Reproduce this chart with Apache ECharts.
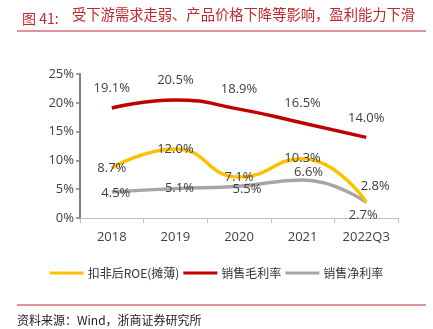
<!DOCTYPE html>
<html><head><meta charset="utf-8">
<script src="https://cdn.jsdelivr.net/npm/echarts@6/dist/echarts.min.js"></script>
<style>html,body{margin:0;padding:0;background:#fff}#c{width:433px;height:329px}</style>
</head><body><div id="c"></div>
<script>
const categories = ['2018','2019','2020','2021','2022Q3'];
const roe = [8.7, 12.0, 7.1, 10.3, 2.8];
const gross = [19.1, 20.5, 18.9, 16.5, 14.0];
const net = [4.5, 5.1, 5.5, 6.6, 2.7];
const names = ['扣非后ROE(摊薄)', '销售毛利率', '销售净利率'];

const roeOffsets = [[0,0],[0,0],[0,0],[0,0],[9,-16]];
const netOffsets = [[4,1],[4,0],[8,3],[6,-8],[-3,13]];
const lblFont = {fontFamily:'Open Sans', fontSize:13, color:'#404040'};

function dataWith(vals, offs){
  return vals.map((v,i)=>({value:v, label:{offset: offs ? offs[i] : [0,0]}}));
}

const chart = echarts.init(document.getElementById('c'));
chart.setOption({
  animation:false,
  title:{text:'图 41:', left:17, top:7, textStyle:{fontFamily:'Noto Sans CJK SC', fontSize:14, fontWeight:'normal', color:'#c0282d'}},
  graphic:[
    {type:'text', left:72, top:7, style:{text:'受下游需求走弱、产品价格下降等影响，盈利能力下滑', font:'14.3px "Noto Sans CJK SC"', fill:'#c0282d'}},
    {type:'line', shape:{x1:17,y1:31,x2:426,y2:31}, style:{stroke:'#c0282d', lineWidth:1}},
    {type:'line', shape:{x1:17,y1:305,x2:426,y2:305}, style:{stroke:'#c0282d', lineWidth:1}},
    {type:'text', left:17, top:314, style:{text:'资料来源：Wind，浙商证券研究所', font:'12px "Noto Sans CJK SC"', fill:'#222'}}
  ],
  grid:{left:80, right:35, top:74, bottom:111, containLabel:false},
  legend:{top:262, left:'center', itemWidth:34, itemHeight:3, itemGap:4, icon:'rect',
    textStyle:{fontFamily:'Noto Sans CJK SC', fontSize:12, color:'#333', padding:[0,0,0,-1]},
    data:names},
  xAxis:{type:'category', data:categories, boundaryGap:true,
    axisLine:{lineStyle:{color:'#bfbfbf', width:1}},
    axisTick:{show:true, length:5, lineStyle:{color:'#bfbfbf'}},
    axisLabel:{fontFamily:'Open Sans', fontSize:13, color:'#404040', margin:13}},
  yAxis:{type:'value', min:0, max:25, interval:5,
    axisLine:{show:true, lineStyle:{color:'#7f7f7f', width:2}},
    axisTick:{show:true, length:4, lineStyle:{color:'#7f7f7f', width:1.5}},
    splitLine:{show:false},
    axisLabel:{formatter:'{value}%', fontFamily:'Open Sans', fontSize:13, color:'#404040', margin:6}},
  series:[
    {name:names[0], type:'line', smooth:0.5, symbol:'circle', symbolSize:0, showSymbol:true, data:dataWith(roe, roeOffsets),
      lineStyle:{color:'#ffc000', width:3.5}, itemStyle:{color:'#ffc000'},
      label:{show:true, position:'inside', formatter:p=>p.value.toFixed(1)+'%', ...lblFont}, z:3},
    {name:names[1], type:'line', smooth:0.5, symbol:'circle', symbolSize:0, showSymbol:true, data:dataWith(gross),
      lineStyle:{color:'#c00000', width:3.5}, itemStyle:{color:'#c00000'},
      label:{show:true, position:'top', distance:13, formatter:p=>p.value.toFixed(1)+'%', ...lblFont}, z:2},
    {name:names[2], type:'line', smooth:0.5, symbol:'circle', symbolSize:0, showSymbol:true, data:dataWith(net, netOffsets),
      lineStyle:{color:'#a6a6a6', width:3.5}, itemStyle:{color:'#a6a6a6'},
      label:{show:true, position:'inside', formatter:p=>p.value.toFixed(1)+'%', ...lblFont}, z:1}
  ]
});
</script></body></html>
